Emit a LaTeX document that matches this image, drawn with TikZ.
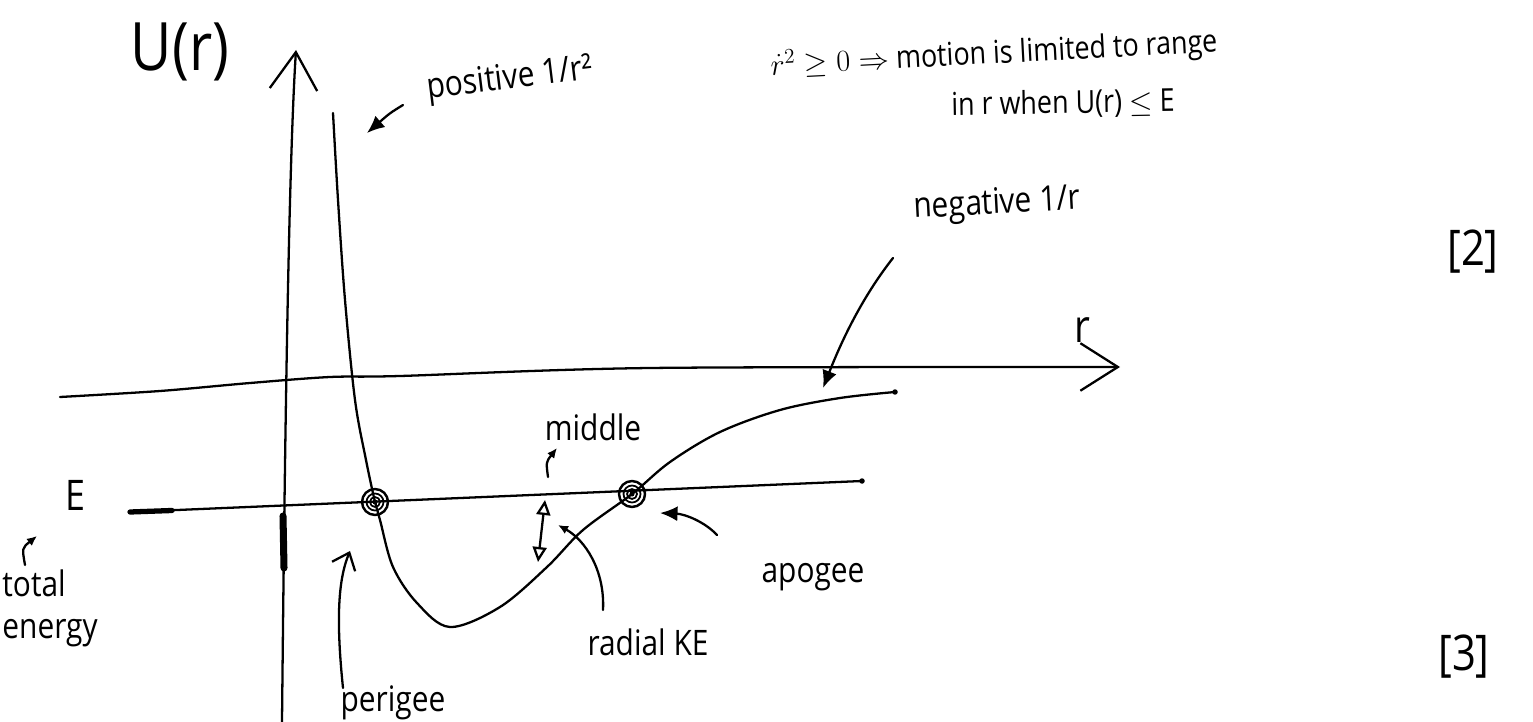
\documentclass[tikz,border=0pt]{standalone}
\usepackage{fontspec}
\setmainfont{Open Sans}[FakeStretch=0.85]
\usetikzlibrary{arrows.meta}
\begin{document}
\begin{tikzpicture}[x=0.02cm,y=-0.02cm,line width=1.3pt,line cap=round,line join=round,
  txt/.style={inner sep=0pt,font=\fontsize{20}{24}\selectfont},
  big/.style={inner sep=0pt,font=\fontsize{38}{44}\selectfont},
  spot/.style={circle,draw,line width=1.4pt,minimum size=0.52cm,inner sep=0pt},
  filltip/.style={-{Latex[length=0.35cm,width=0.3cm]}},
  smalltip/.style={-{Latex[length=0.2cm,width=0.18cm]}},
  axistip/.style={-{Straight Barb[length=0.75cm,width=0.95cm]}},
  opentri/.style={{Triangle[open,length=0.3cm,width=0.28cm]}-{Triangle[open,length=0.3cm,width=0.28cm]}},
]
\useasboundingbox (0,0) rectangle (1533,722);

% axes
\coordinate (ybot) at (282,722);
\coordinate (ytop) at (296,50);
\draw[axistip] (ybot) .. controls (285,420) and (289,160) .. (ytop);
\coordinate (xl) at (60,397);
\coordinate (xr) at (1120,367);
\draw[axistip] plot[smooth,tension=0.5] coordinates {(xl) (160,391) (250,383) (330,377) (400,376) (650,368) (xr)};
\draw[line width=4pt] (283,516) -- (284,568);

% total energy line
\coordinate (el) at (130,512);
\coordinate (er) at (862,481);
\draw (el) -- (er);
\draw[line width=3pt] (el) -- (172,510.5);
\fill (er) circle (0.055cm);

% potential curve
\draw plot[smooth,tension=0.55] coordinates {(333,113) (338,200) (345,300) (355,400) (366,460) (375,502) (380,520) (393,567) (417,603) (450,627) (500,607) (547,567) (583,530) (632,494) (670,462) (720,432) (780,410) (840,398) (895,392)};
\fill (895,392) circle (0.055cm);

% turning points
\node[spot] (peri) at (375,502) {};
\node[spot] (apo) at (632,494) {};
\draw[line width=1pt] (peri) circle (0.17cm) (peri) circle (0.1cm); \fill (peri) circle (0.05cm);
\draw[line width=1pt] (apo) circle (0.17cm) (apo) circle (0.1cm); \fill (apo) circle (0.05cm);

% labels
\node[big] (U) at (180,52) {U(r)};
\node[txt,font=\fontsize{26}{30}\selectfont] (rlab) at (1082,330) {r};
\node[txt,font=\fontsize{24}{28}\selectfont] (E) at (75,495) {E};
\node[txt,align=left] (tot) at (50,608) {total\\energy};
\node[txt,rotate=7] (pos) at (510,80) {positive 1/r²};
\node[txt,rotate=3,font=\fontsize{18}{22}\selectfont] (l1) at (994,55) {$\dot r^{2}\geq 0\Rightarrow$ motion is limited to range};
\node[txt,rotate=1,font=\fontsize{18}{22}\selectfont] (l2) at (1063,104) {in r when U(r) $\leq$ E};
\node[txt,rotate=3] (neg) at (997,205) {negative 1/r};
\node[txt] (mid) at (593,427) {middle};
\node[txt] (rke) at (648,642) {radial KE};
\node[txt] (apol) at (813,577) {apogee};
\node[txt] (peril) at (393,703) {perigee};
\node[txt,font=\fontsize{28}{32}\selectfont] (two) at (1473,252) {[2]};
\node[txt,font=\fontsize{28}{32}\selectfont] (three) at (1464,657) {[3]};

% annotation arrows
\coordinate (posA) at (403,105);
\coordinate (posB) at (367,133);
\draw[filltip] (posA) .. controls (390,113) .. (posB);
\coordinate (negA) at (893,258);
\coordinate (negB) at (823,388);
\draw[filltip] (negA) .. controls (860,300) and (840,345) .. (negB);
\coordinate (totA) at (25,565);
\coordinate (totB) at (37,536);
\draw[smalltip] (totA) .. controls (22,548) .. (totB);
\coordinate (midA) at (548,477);
\coordinate (midB) at (557,448);
\draw[smalltip] (midA) .. controls (546,462) .. (midB);
\coordinate (keTop) at (545,500);
\coordinate (keBot) at (538,562);
\draw[opentri] (keBot) -- (keTop);
\coordinate (rkeA) at (603,610);
\coordinate (rkeB) at (558,525);
\draw[smalltip] (rkeA) .. controls (605,570) and (585,540) .. (rkeB);
\coordinate (apoA) at (717,535);
\coordinate (apoB) at (660,513);
\draw[filltip] (apoA) .. controls (705,522) and (685,514) .. (apoB);
\coordinate (periA) at (343,688);
\coordinate (periB) at (350,551);
\draw[-{Straight Barb[length=0.3cm,width=0.5cm]}] (periA) .. controls (336,620) and (338,580) .. (periB);
\end{tikzpicture}
\end{document}
